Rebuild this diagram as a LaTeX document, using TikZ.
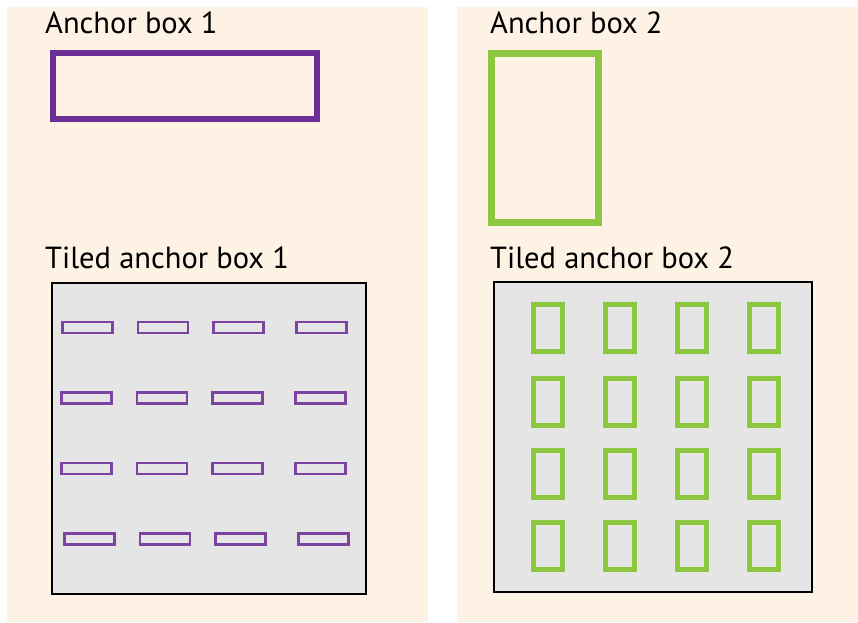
\documentclass[tikz,border=0pt]{standalone}
\usepackage{xcolor}
\usepackage{fontspec}
\setmainfont{PT Sans}
\usepackage{tikz}
\definecolor{panelbg}{HTML}{FDF2E4}
\definecolor{framebg}{HTML}{E5E5E5}
\definecolor{boxpurple}{HTML}{6B2F95}
\definecolor{boxgreen}{HTML}{8DC63F}

\begin{document}
\begin{tikzpicture}[x=1pt,y=-1pt,every node/.style={font=\fontsize{30.5}{36}\selectfont,inner sep=0pt},
  title/.style={anchor=base west,text=black},
  frame/.style={draw=black,fill=framebg,line width=2pt},
  tileA/.style={draw=boxpurple!90,line width=2.5pt,minimum width=50pt,minimum height=11pt},
  tileB/.style={draw=boxgreen,line width=5pt,minimum width=29pt,minimum height=47pt}]
\useasboundingbox (0,0) rectangle (858,622);
\fill[panelbg] (7,7) rectangle (428,622);
\fill[panelbg] (457,7) rectangle (858,622);
\node[title] (h1) at (45,33) {Anchor box 1};
\node[title] (h2) at (490,33) {Anchor box 2};
\node[title] (th1) at (45,268) {Tiled anchor box 1};
\node[title] (th2) at (490,268) {Tiled anchor box 2};
\node[draw=boxpurple,line width=6.5pt,minimum width=264pt,minimum height=66pt] (a1) at (185,86) {};
\node[draw=boxgreen,line width=7pt,minimum width=107pt,minimum height=169pt] (a2) at (545,138) {};
\node[frame,minimum width=314pt,minimum height=311pt] (f1) at (209,438.5) {};
\node[frame,minimum width=318pt,minimum height=310pt] (f2) at (653,437) {};
% tiles
\foreach \y/\dx [count=\r] in {327.5/0,398/-1,468.5/-1,539/2}
  \foreach \x [count=\c] in {87.5,163,238.5,321.5}
    \node[tileA] (p\r\c) at (\x+\dx,\y) {};
\foreach \y [count=\r] in {328,401.5,473.5,546}
  \foreach \x [count=\c] in {548,620,691.5,764}
    \node[tileB] (g\r\c) at (\x,\y) {};
\end{tikzpicture}
\end{document}
